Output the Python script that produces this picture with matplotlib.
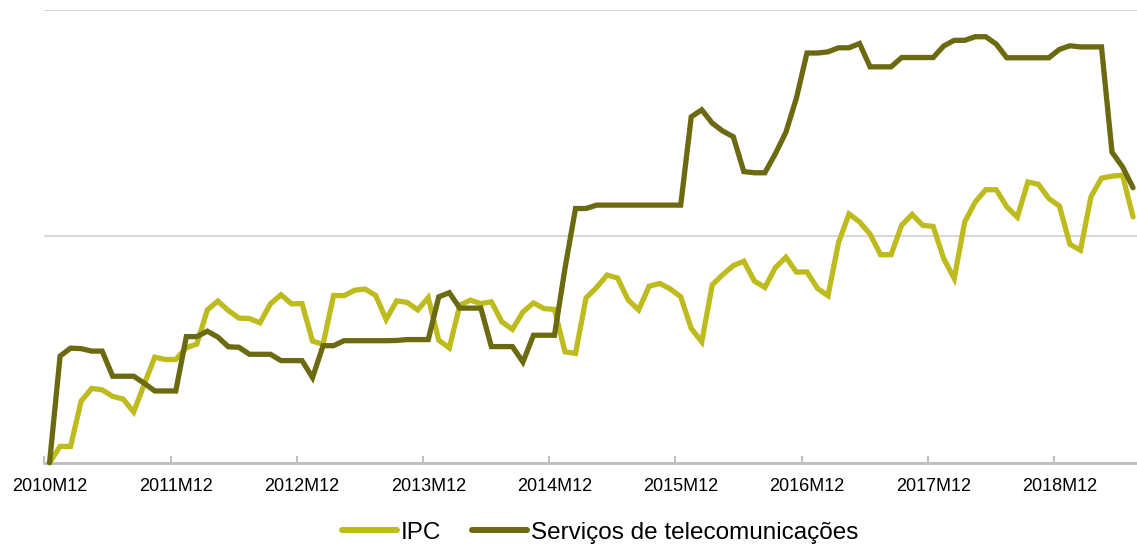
import matplotlib
matplotlib.use("Agg")
import matplotlib.pyplot as plt
import numpy as np

# Monthly categories from 2010M12 onward
n_months = 104
categories = []
y, m = 2010, 12
for _ in range(n_months):
    categories.append(f"{y}M{m:02d}")
    m += 1
    if m > 12:
        m = 1
        y += 1

tick_labels = ["2010M12", "2011M12", "2012M12", "2013M12", "2014M12",
               "2015M12", "2016M12", "2017M12", "2018M12"]

ipc = [0.00, 0.72, 0.72, 2.72, 3.28, 3.22, 2.93, 2.81, 2.24, 3.47,
       4.66, 4.56, 4.56, 5.08, 5.24, 6.75, 7.14, 6.72, 6.39, 6.37,
       6.18, 7.02, 7.42, 7.02, 7.03, 5.37, 5.23, 7.39, 7.38, 7.62,
       7.67, 7.39, 6.33, 7.15, 7.08, 6.75, 7.29, 5.41, 5.07, 6.96,
       7.18, 7.03, 7.11, 6.22, 5.89, 6.66, 7.06, 6.81, 6.77, 4.90,
       4.83, 7.28, 7.74, 8.29, 8.16, 7.19, 6.75, 7.80, 7.92, 7.68,
       7.33, 5.93, 5.34, 7.86, 8.31, 8.71, 8.90, 8.03, 7.74, 8.62,
       9.08, 8.42, 8.43, 7.70, 7.38, 9.72, 10.99, 10.64, 10.10, 9.19,
       9.19, 10.49, 10.97, 10.49, 10.44, 9.02, 8.14, 10.64, 11.52, 12.06,
       12.06, 11.30, 10.85, 12.40, 12.30, 11.67, 11.34, 9.65, 9.39, 11.75,
       12.57, 12.66, 12.70, 10.86]

telecom = [0.00, 4.71, 5.06, 5.04, 4.93, 4.93, 3.82, 3.82, 3.82, 3.51,
           3.17, 3.17, 3.17, 5.57, 5.57, 5.81, 5.55, 5.12, 5.10, 4.79,
           4.79, 4.79, 4.51, 4.51, 4.51, 3.76, 5.17, 5.17, 5.39, 5.39,
           5.39, 5.39, 5.39, 5.40, 5.44, 5.44, 5.44, 7.33, 7.51, 6.83,
           6.83, 6.83, 5.13, 5.13, 5.13, 4.45, 5.63, 5.63, 5.63, 8.59,
           11.23, 11.23, 11.38, 11.38, 11.38, 11.38, 11.38, 11.38, 11.38, 11.38,
           11.38, 15.28, 15.59, 15.00, 14.65, 14.40, 12.86, 12.81, 12.81, 13.65,
           14.60, 16.11, 18.10, 18.10, 18.15, 18.33, 18.33, 18.52, 17.49, 17.49,
           17.49, 17.90, 17.90, 17.90, 17.90, 18.41, 18.66, 18.66, 18.82, 18.82,
           18.49, 17.89, 17.89, 17.89, 17.89, 17.89, 18.26, 18.42, 18.37, 18.37,
           18.37, 13.72, 13.07, 12.15]

series_names = ["IPC", "Serviços de telecomunicações"]
colors = ["#BDBB1E", "#6B6A10"]

plt.rcParams['font.family'] = ['Liberation Sans', 'DejaVu Sans']

W, H = 1137, 544
fig = plt.figure(figsize=(W / 100, H / 100), dpi=100)
left_px, right_px = 44.3, 1138.3
top_px, bottom_px = 10.0, 462.7
ax = fig.add_axes([left_px / W, 1 - bottom_px / H,
                   (right_px - left_px) / W, (bottom_px - top_px) / H])

x = np.arange(n_months)
ax.plot(x, ipc, color=colors[0], lw=3.8, label=series_names[0],
        solid_joinstyle='miter', solid_capstyle='round', zorder=3, clip_on=False)
ax.plot(x, telecom, color=colors[1], lw=3.8, label=series_names[1],
        solid_joinstyle='miter', solid_capstyle='round', zorder=4, clip_on=False)

ax.set_xlim(-0.5, n_months - 0.5)
ax.set_ylim(0, 20)

ax.set_yticks([0, 10, 20])
ax.yaxis.grid(True, color="#D9D9D9", lw=1.5)
ax.set_axisbelow(True)
ax.tick_params(axis='y', left=False, labelleft=False)

label_pos = [categories.index(t) for t in tick_labels]
ax.set_xticks(label_pos)
ax.set_xticklabels(tick_labels, fontsize=13)
ax.set_xticks(np.arange(-0.5, n_months, 12), minor=True)
ax.tick_params(axis='x', which='major', length=0, pad=11)
ax.tick_params(axis='x', which='minor', direction='in', length=5,
               width=1.5, color="#BFBFBF")

for s in ['top', 'right', 'left']:
    ax.spines[s].set_visible(False)
ax.spines['bottom'].set_color("#BFBFBF")
ax.spines['bottom'].set_linewidth(2)

leg = fig.legend(loc='center', bbox_to_anchor=(600 / W, 1 - 532.5 / H),
                 ncol=2, frameon=False, fontsize=17.5, handlelength=2.25,
                 handletextpad=0.15, columnspacing=1.3)
for line in leg.get_lines():
    line.set_linewidth(4.3)
    line.set_solid_capstyle('round')

fig.savefig("out.png", dpi=100)
